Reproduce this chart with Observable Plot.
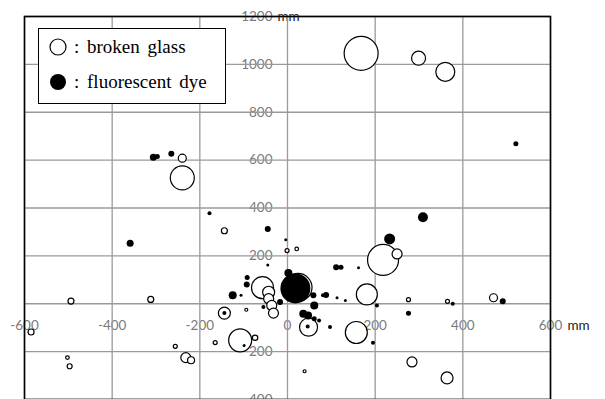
<!DOCTYPE html>
<html>
<head>
<meta charset="utf-8">
<script src="https://cdn.jsdelivr.net/npm/d3@7"></script>
<script src="https://cdn.jsdelivr.net/npm/@observablehq/plot@0.6"></script>
<style>
  html, body { margin: 0; padding: 0; background: #fff; }
  #wrap { position: relative; width: 605px; height: 399px; overflow: hidden; }
  #legend {
    position: absolute; left: 38px; top: 28px; width: 186px; height: 74px;
    border: 1px solid #000; background: #fff;
    font-family: "Liberation Serif", "Times New Roman", serif; font-size: 19px; color: #000;
  }
  #legend .row { position: absolute; left: 0; height: 20px; display: flex; align-items: center; word-spacing: 3px; white-space: nowrap; }
  #legend svg { margin-left: 10px; margin-right: 7px; }
</style>
</head>
<body>
<div id="wrap">
  <div id="chart"></div>
  <div id="legend">
    <div class="row" style="top:8px"><svg width="18" height="18"><circle cx="9" cy="9" r="8" fill="#fff" stroke="#000" stroke-width="1.2"/></svg><span>: broken glass</span></div>
    <div class="row" style="top:43px"><svg width="18" height="18"><circle cx="9" cy="9" r="8" fill="#000"/></svg><span>: fluorescent dye</span></div>
  </div>
</div>
<script>
// Broken glass (open circles)
const glassX = [168, 299, 360, -240, -240, -144, -1, 21, -494, -312, -585, -502, -497, -256, -232, -220, -144, -165, -108, -74, -94, -57, -43, -43, -36, -32, 24, 181, 218, 250, 276, 365, 470, 157, 48, 284, 364, 39];
const glassY = [1046, 1026, 969, 608, 526, 305, 222, 229, 11, 18, -118, -225, -261, -178, -225, -236, -39, -162, -153, -142, -25, 67, 48, 21, -7, -39, 68, 39, 183, 208, 17, 10, 25, -120, -98, -243, -310, -282];
const glassSize = [17, 7, 9.5, 4, 12, 3, 2, 1.8, 3, 3, 3, 1.8, 2.5, 2, 5, 3.5, 6, 2, 11.5, 2.7, 1.5, 11, 6, 5, 5, 5, 14, 10.5, 15.5, 5, 2, 2, 4, 11, 9, 5, 6, 1.5];

// Fluorescent dye (filled circles)
const dyeX = [-306, -297, -265, -178, -45, -4, -359, -144, -99, -125, -106, -92, -93, -45, 2, -55, -17, 18, 59, 61, 81, 88, 113, 132, 111, 122, 162, 36, 47, 61, 72, 46, 97, 195, 204, 276, 377, 491, 309, 233, 521];
const dyeY = [612, 615, 627, 378, 312, 267, 253, -39, -174, 35, 35, 110, 80, 162, 128, -14, 7, 64, 35, -7, 35, 37, 25, 14, 152, 152, 150, -42, -49, -63, -70, -95, -97, -163, -7, -40, 0, 10, 361, 271, 668];
const dyeSize = [3.5, 2.5, 3, 2, 3, 1.5, 3.5, 2, 1.5, 4, 1.5, 2.5, 3, 1.5, 4, 2, 3, 15, 3, 4, 2, 3, 1.5, 1.5, 3, 2.5, 1.5, 4, 4, 2.5, 2, 2, 2, 2, 2, 2.5, 2, 3, 5, 5.5, 2.5];

// Axis ticks
const xTicks = [-600, -400, -200, 0, 200, 400, 600];
const yTicks = [-400, -200, 0, 200, 400, 600, 800, 1000, 1200];
const yLabelTicks = [-400, -200, 200, 400, 600, 800, 1000, 1200];

const glass = d3.sort(glassX.map((x, i) => ({x, y: glassY[i], r: glassSize[i]})), d => -d.r);
const dye = d3.sort(dyeX.map((x, i) => ({x, y: dyeY[i], r: dyeSize[i]})), d => -d.r);

const labelFont = {fontFamily: "Lato, 'Open Sans', sans-serif", fontSize: 13.5};

const chart = Plot.plot({
  width: 605,
  height: 400,
  marginLeft: 24,
  marginRight: 55,
  marginTop: 16,
  marginBottom: 1,
  style: {background: "#fff", overflow: "visible"},
  x: {domain: [-600, 600], axis: null},
  y: {domain: [-400, 1200], axis: null},
  r: {type: "identity"},
  marks: [
    Plot.text(yLabelTicks, {x: 0, y: d => d, text: d => String(d), textAnchor: "end", dx: -15, fill: "#7a7a7a", ...labelFont}),
    Plot.text(xTicks, {x: d => d, y: 0, text: d => String(d), dy: 22, fill: "#7a7a7a", ...labelFont}),
    Plot.text([600], {x: d => d, y: 0, text: () => "mm", textAnchor: "start", dx: 17, dy: 22, fill: "#222", ...labelFont}),
    Plot.text([1200], {x: 0, y: d => d, text: () => "mm", textAnchor: "start", dx: -10, fill: "#222", ...labelFont}),
    Plot.ruleX(xTicks, {stroke: "#9a9a9a", strokeWidth: 1.3}),
    Plot.ruleY(yTicks, {stroke: "#9a9a9a", strokeWidth: 1.3}),
    Plot.frame({stroke: "#000", strokeWidth: 1.6}),
    Plot.dot(glass, {x: "x", y: "y", r: "r", fill: "#fff", stroke: "#000", strokeWidth: 1.2}),
    Plot.dot(dye, {x: "x", y: "y", r: "r", fill: "#000", stroke: "none"})
  ]
});
document.getElementById("chart").appendChild(chart);
</script>
</body>
</html>
